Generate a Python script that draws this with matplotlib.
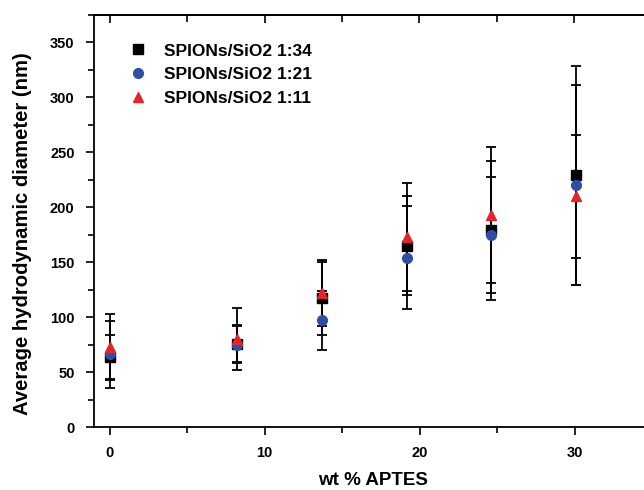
import numpy as np
import matplotlib
matplotlib.use("Agg")
from matplotlib import pyplot as plt
from matplotlib.ticker import MultipleLocator

plt.rcParams['font.family'] = ['Liberation Sans', 'DejaVu Sans']
plt.rcParams['font.weight'] = 'bold'

# wt % APTES
aptes = [0, 8.2, 13.7, 19.2, 24.6, 30.1]

# average hydrodynamic diameter (nm) and error for each SPIONs/SiO2 ratio
d_134 = [64, 76, 117, 165, 179, 229]
e_134 = [20, 17, 33, 45, 63, 100]
d_121 = [66, 75, 97, 154, 175, 220]
e_121 = [30.5, 17, 27, 47, 53, 91]
d_111 = [73, 80, 122, 173, 193, 210]
e_111 = [30, 28, 30, 49, 62, 56]

labels = ['SPIONs/SiO2 1:34', 'SPIONs/SiO2 1:21', 'SPIONs/SiO2 1:11']


def main():
    fig = plt.figure(figsize=(6.44, 4.90), dpi=100)
    ax = fig.add_axes([94 / 644, 1 - 427 / 490, 558 / 644, 412 / 490])

    series = [
        (d_134, e_134, 's', 'black', 6.5),
        (d_121, e_121, 'o', '#2f4ea6', 7.0),
        (d_111, e_111, '^', '#e5232b', 7.5),
    ]
    for d, e, m, c, ms in series:
        ax.errorbar(aptes, d, yerr=e, fmt='none', ecolor='black', elinewidth=1.3,
                    capsize=3.8, capthick=1.3, zorder=2)
    for (d, e, m, c, ms), lab in zip(series, labels):
        ax.plot(aptes, d, linestyle='none', marker=m, color=c, markersize=ms,
                label=lab, zorder=3)

    ax.set_xlim(-1, 35)
    ax.set_ylim(0, 375)
    ax.xaxis.set_major_locator(MultipleLocator(10))
    ax.xaxis.set_minor_locator(MultipleLocator(5))
    ax.yaxis.set_major_locator(MultipleLocator(50))
    ax.yaxis.set_minor_locator(MultipleLocator(25))

    for s in ax.spines.values():
        s.set_linewidth(1.3)
    ax.tick_params(which='both', direction='out', width=1.2, top=False, right=False)
    ax.tick_params(which='major', length=6, labelsize=10.5, pad=8)
    ax.tick_params(which='minor', length=4)
    # inward ticks along the top spine
    top = ax.secondary_xaxis('top')
    top.xaxis.set_major_locator(MultipleLocator(10))
    top.xaxis.set_minor_locator(MultipleLocator(5))
    top.tick_params(which='both', direction='in', length=6, width=1.2, labeltop=False)
    top.tick_params(which='minor', length=5)
    top.spines['top'].set_linewidth(1.3)

    ax.set_xlabel('wt % APTES', fontsize=13.5, fontweight='bold', labelpad=8)
    ax.set_ylabel('Average hydrodynamic diameter (nm)', fontsize=14.6, fontweight='bold')
    ax.yaxis.set_label_coords(-0.112, 0.47)

    ax.legend(loc='upper left', bbox_to_anchor=(0.05, 0.948), frameon=False,
              prop={'size': 12.5, 'weight': 'bold'}, handletextpad=1.05,
              labelspacing=0.5, handlelength=1.0, borderaxespad=0)

    fig.savefig('out.png', dpi=100)
    plt.close(fig)


if __name__ == '__main__':
    main()
